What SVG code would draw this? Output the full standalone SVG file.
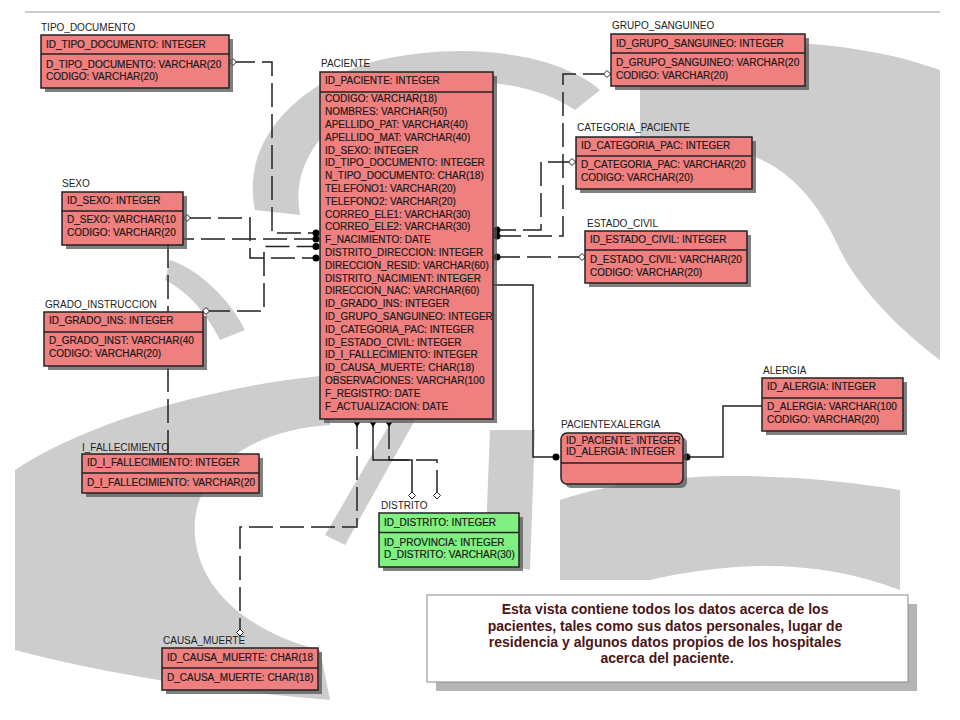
<svg xmlns="http://www.w3.org/2000/svg" width="960" height="720" viewBox="0 0 960 720">
<style>
.wm{fill:#cdcdcd}
.sh{fill:#555;opacity:0.75}
.tb{fill:#f08080;stroke:#222;stroke-width:1.5}
.tg{fill:#80f080;stroke:#222;stroke-width:1.5}
.dv{stroke:#222;stroke-width:1.5}
.t{font-family:"Liberation Sans",Arial,sans-serif;font-size:10px;fill:#1a1a1a;stroke:#1a1a1a;stroke-width:0.2}
.lb{font-family:"Liberation Sans",Arial,sans-serif;font-size:10px;fill:#222}
.ln{fill:none;stroke:#222;stroke-width:1.5}
.dash{stroke-dasharray:24,7}
.dia{fill:#fff;stroke:#222;stroke-width:1}
.dot{fill:#000}
.note{font-family:"Liberation Sans",Arial,sans-serif;font-size:14px;font-weight:bold;fill:#4b1616}
</style>
<defs>
<clipPath id="cpP"><rect x="320" y="72" width="173" height="347"/></clipPath>
</defs>
<rect width="960" height="720" fill="#fff"/>
<g id="watermark">
<path class="wm" d="M255,210 C240,140 300,80 380,60 C470,40 560,55 600,90 L575,110 C530,80 460,75 400,90 C330,110 290,160 300,215 Z"/>
<path class="wm" d="M640,60 C720,30 860,40 940,70 L940,360 C900,330 860,290 840,250 C820,205 790,165 740,152 C700,142 660,150 640,160 Z"/>
<path class="wm" d="M15,470 C90,420 220,385 330,375 L330,425 C250,430 200,470 195,520 C190,580 240,630 320,650 L330,700 C200,690 90,670 15,650 Z"/>
<path class="wm" d="M395,415 L415,420 L345,545 L325,535 Z"/>
<path class="wm" d="M490,430 L535,430 L530,570 L485,560 Z"/>
<path class="wm" d="M560,500 C650,470 780,470 900,490 L900,590 C820,560 740,560 650,580 L560,580 Z"/>
<path class="wm" d="M170,260 C200,270 230,300 245,330 L220,340 C205,310 185,290 165,280 Z"/>
</g>
<line x1="25" y1="12" x2="940" y2="12" stroke="#9a9a9a" stroke-width="1"/>
<g id="connectors">
<path class="ln dash" d="M231,62 H272 V233 H316"/>
<path class="ln dash" d="M168,454 V239 H316"/>
<path class="ln dash" d="M187,218 H250 V258 H316"/>
<path class="ln dash" d="M206,311 H264 V246.5 H316"/>
<path class="ln dash" d="M607,74 H563 V236 H497"/>
<path class="ln dash" d="M572,162 H541 V230 H497"/>
<path class="ln dash" d="M582,257 H497"/>
<path class="ln" d="M493,285 H533 V457 H556"/>
<path class="ln" d="M687,457 H723 V406 H762"/>
<path class="ln dash" d="M357,425 V527 H240 V629"/>
<path class="ln" d="M373,425 V460 H412 V492"/>
<path class="ln dash" d="M389,425 V460 H437 V492"/>
<path class="dia" d="M233,58.5 L236.5,62 L233,65.5 L229.5,62 Z"/>
<path class="dia" d="M187,214.5 L190.5,218 L187,221.5 L183.5,218 Z"/>
<path class="dia" d="M206,307.5 L209.5,311 L206,314.5 L202.5,311 Z"/>
<path class="dia" d="M607,70.5 L610.5,74 L607,77.5 L603.5,74 Z"/>
<path class="dia" d="M572,158.5 L575.5,162 L572,165.5 L568.5,162 Z"/>
<path class="dia" d="M582,253.5 L585.5,257 L582,260.5 L578.5,257 Z"/>
<path class="dia" d="M412,492 L415.5,495.5 L412,499 L408.5,495.5 Z"/>
<path class="dia" d="M437,492 L440.5,495.5 L437,499 L433.5,495.5 Z"/>
<path class="dia" d="M240,629 L243.5,632.5 L240,636 L236.5,632.5 Z"/>
<circle class="dot" cx="316" cy="233" r="3.5"/>
<circle class="dot" cx="316" cy="239" r="3.5"/>
<circle class="dot" cx="316" cy="246.5" r="3.5"/>
<circle class="dot" cx="316" cy="258" r="3.5"/>
<circle class="dot" cx="497" cy="230" r="3.5"/>
<circle class="dot" cx="497" cy="236" r="3.5"/>
<circle class="dot" cx="497" cy="257" r="3.5"/>
<circle class="dot" cx="556" cy="457" r="3.5"/>
<circle class="dot" cx="687" cy="457" r="3.5"/>
<path class="dot" d="M353.5,422 H360.5 L357,427 Z"/>
<path class="dot" d="M369.5,422 H376.5 L373,427 Z"/>
<path class="dot" d="M385.5,422 H392.5 L389,427 Z"/>
</g>
<g id="tipo_documento">
<text class="lb" x="41" y="31">TIPO_DOCUMENTO</text>
<rect class="sh" x="45" y="39" width="188" height="53"/>
<rect class="tb" x="41" y="35" width="188" height="53"/>
<line class="dv" x1="41" y1="54" x2="229" y2="54"/>
<text class="t" x="46" y="47.5">ID_TIPO_DOCUMENTO: INTEGER</text>
<text class="t" x="46" y="67.5">D_TIPO_DOCUMENTO: VARCHAR(20</text>
<text class="t" x="46" y="79.5">CODIGO: VARCHAR(20)</text>
</g>
<g id="grupo_sanguineo">
<text class="lb" x="612" y="29">GRUPO_SANGUINEO</text>
<rect class="sh" x="615" y="38" width="194" height="52"/>
<rect class="tb" x="611" y="34" width="194" height="52"/>
<line class="dv" x1="611" y1="53" x2="805" y2="53"/>
<text class="t" x="616" y="46.5">ID_GRUPO_SANGUINEO: INTEGER</text>
<text class="t" x="616" y="66">D_GRUPO_SANGUINEO: VARCHAR(20</text>
<text class="t" x="616" y="78.5">CODIGO: VARCHAR(20)</text>
</g>
<g id="categoria_paciente">
<text class="lb" x="577" y="131">CATEGORIA_PACIENTE</text>
<rect class="sh" x="580" y="141" width="176" height="52"/>
<rect class="tb" x="576" y="137" width="176" height="52"/>
<line class="dv" x1="576" y1="156" x2="752" y2="156"/>
<text class="t" x="581" y="148.5">ID_CATEGORIA_PAC: INTEGER</text>
<text class="t" x="581" y="168">D_CATEGORIA_PAC: VARCHAR(20</text>
<text class="t" x="581" y="180.5">CODIGO: VARCHAR(20)</text>
</g>
<g id="estado_civil">
<text class="lb" x="587" y="227">ESTADO_CIVIL</text>
<rect class="sh" x="589" y="235" width="162" height="52"/>
<rect class="tb" x="585" y="231" width="162" height="52"/>
<line class="dv" x1="585" y1="250" x2="747" y2="250"/>
<text class="t" x="590" y="243">ID_ESTADO_CIVIL: INTEGER</text>
<text class="t" x="590" y="263">D_ESTADO_CIVIL: VARCHAR(20</text>
<text class="t" x="590" y="275.5">CODIGO: VARCHAR(20)</text>
</g>
<g id="sexo">
<text class="lb" x="62" y="187">SEXO</text>
<rect class="sh" x="66" y="196" width="121" height="53"/>
<rect class="tb" x="62" y="192" width="121" height="53"/>
<line class="dv" x1="62" y1="211" x2="183" y2="211"/>
<text class="t" x="67" y="203.5">ID_SEXO: INTEGER</text>
<text class="t" x="67" y="223">D_SEXO: VARCHAR(10</text>
<text class="t" x="67" y="235.5">CODIGO: VARCHAR(20</text>
</g>
<g id="grado_instruccion">
<text class="lb" x="45" y="308">GRADO_INSTRUCCION</text>
<rect class="sh" x="48" y="316" width="159" height="54"/>
<rect class="tb" x="44" y="312" width="159" height="54"/>
<line class="dv" x1="44" y1="332" x2="203" y2="332"/>
<text class="t" x="49" y="324">ID_GRADO_INS: INTEGER</text>
<text class="t" x="49" y="343.5">D_GRADO_INST: VARCHAR(40</text>
<text class="t" x="49" y="356.5">CODIGO: VARCHAR(20)</text>
</g>
<g id="i_fallecimiento">
<text class="lb" x="82" y="450.5">I_FALLECIMIENTO</text>
<rect class="sh" x="86" y="458" width="177" height="39"/>
<rect class="tb" x="82" y="454" width="177" height="39"/>
<line class="dv" x1="82" y1="473" x2="259" y2="473"/>
<text class="t" x="87" y="466">ID_I_FALLECIMIENTO: INTEGER</text>
<text class="t" x="87" y="485.5">D_I_FALLECIMIENTO: VARCHAR(20</text>
</g>
<g id="paciente">
<text class="lb" x="321" y="67">PACIENTE</text>
<rect class="sh" x="324" y="76" width="173" height="347"/>
<rect class="tb" x="320" y="72" width="173" height="347"/>
<line class="dv" x1="320" y1="92" x2="493" y2="92"/>
<text class="t" x="325" y="83.5">ID_PACIENTE: INTEGER</text>
<text class="t" clip-path="url(#cpP)">
<tspan x="325" y="102.3">CODIGO: VARCHAR(18)</tspan>
<tspan x="325" y="115.1">NOMBRES: VARCHAR(50)</tspan>
<tspan x="325" y="127.9">APELLIDO_PAT: VARCHAR(40)</tspan>
<tspan x="325" y="140.7">APELLIDO_MAT: VARCHAR(40)</tspan>
<tspan x="325" y="153.5">ID_SEXO: INTEGER</tspan>
<tspan x="325" y="166.3">ID_TIPO_DOCUMENTO: INTEGER</tspan>
<tspan x="325" y="179.1">N_TIPO_DOCUMENTO: CHAR(18)</tspan>
<tspan x="325" y="191.9">TELEFONO1: VARCHAR(20)</tspan>
<tspan x="325" y="204.7">TELEFONO2: VARCHAR(20)</tspan>
<tspan x="325" y="217.5">CORREO_ELE1: VARCHAR(30)</tspan>
<tspan x="325" y="230.3">CORREO_ELE2: VARCHAR(30)</tspan>
<tspan x="325" y="243.1">F_NACIMIENTO: DATE</tspan>
<tspan x="325" y="255.9">DISTRITO_DIRECCION: INTEGER</tspan>
<tspan x="325" y="268.7">DIRECCION_RESID: VARCHAR(60)</tspan>
<tspan x="325" y="281.5">DISTRITO_NACIMIENT: INTEGER</tspan>
<tspan x="325" y="294.3">DIRECCION_NAC: VARCHAR(60)</tspan>
<tspan x="325" y="307.1">ID_GRADO_INS: INTEGER</tspan>
<tspan x="325" y="319.9">ID_GRUPO_SANGUINEO: INTEGER</tspan>
<tspan x="325" y="332.7">ID_CATEGORIA_PAC: INTEGER</tspan>
<tspan x="325" y="345.5">ID_ESTADO_CIVIL: INTEGER</tspan>
<tspan x="325" y="358.3">ID_I_FALLECIMIENTO: INTEGER</tspan>
<tspan x="325" y="371.1">ID_CAUSA_MUERTE: CHAR(18)</tspan>
<tspan x="325" y="383.9">OBSERVACIONES: VARCHAR(100</tspan>
<tspan x="325" y="396.7">F_REGISTRO: DATE</tspan>
<tspan x="325" y="409.5">F_ACTUALIZACION: DATE</tspan>
</text>
</g>
<g id="alergia">
<text class="lb" x="763" y="374">ALERGIA</text>
<rect class="sh" x="766" y="382" width="141" height="53"/>
<rect class="tb" x="762" y="378" width="141" height="53"/>
<line class="dv" x1="762" y1="398" x2="903" y2="398"/>
<text class="t" x="767" y="389.5">ID_ALERGIA: INTEGER</text>
<text class="t" x="767" y="410">D_ALERGIA: VARCHAR(100</text>
<text class="t" x="767" y="423">CODIGO: VARCHAR(20)</text>
</g>
<g id="pacientexalergia">
<text class="lb" x="561" y="428">PACIENTEXALERGIA</text>
<rect class="sh" x="565" y="437" width="122" height="51" rx="6"/>
<rect class="tb" x="561" y="433" width="122" height="51" rx="6"/>
<line class="dv" x1="561" y1="463" x2="683" y2="463"/>
<text class="t" x="566" y="443.5">ID_PACIENTE: INTEGER</text>
<text class="t" x="566" y="455">ID_ALERGIA: INTEGER</text>
</g>
<g id="distrito">
<text class="lb" x="381" y="509">DISTRITO</text>
<rect class="sh" x="383" y="517" width="140" height="54"/>
<rect class="tg" x="379" y="513" width="140" height="54"/>
<line class="dv" x1="379" y1="532.5" x2="519" y2="532.5"/>
<text class="t" x="384" y="525.5">ID_DISTRITO: INTEGER</text>
<text class="t" x="384" y="545.5">ID_PROVINCIA: INTEGER</text>
<text class="t" x="384" y="557.5">D_DISTRITO: VARCHAR(30)</text>
</g>
<g id="causa_muerte">
<text class="lb" x="163" y="644">CAUSA_MUERTE</text>
<rect class="sh" x="166" y="652" width="156" height="42"/>
<rect class="tb" x="162" y="648" width="156" height="42"/>
<line class="dv" x1="162" y1="668" x2="318" y2="668"/>
<text class="t" x="167" y="660.5">ID_CAUSA_MUERTE: CHAR(18</text>
<text class="t" x="167" y="680.5">D_CAUSA_MUERTE: CHAR(18)</text>
</g>
<g id="nota">
<rect x="436" y="604" width="481" height="87" fill="#b5b5b5"/>
<rect x="427" y="595" width="481" height="87" fill="#fff" stroke="#8a8a8a" stroke-width="1"/>
<text class="note" text-anchor="middle">
<tspan x="667" y="614">Esta vista contiene todos los datos acerca de los</tspan>
<tspan x="667" y="630.5">pacientes, tales como sus datos personales, lugar de</tspan>
<tspan x="667" y="646.5">residencia y algunos datos propios de los hospitales</tspan>
<tspan x="667" y="662.5">acerca del paciente.</tspan>
</text>
</g>
</svg>
